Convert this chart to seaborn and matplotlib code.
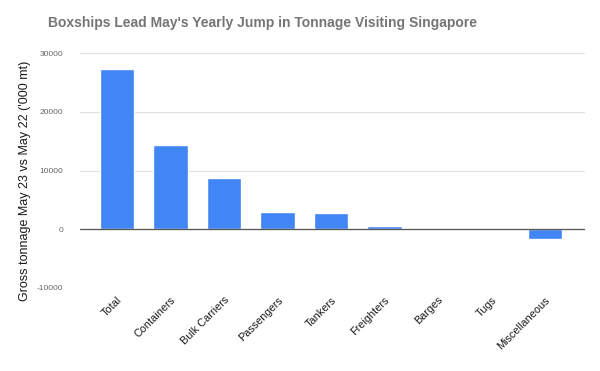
import matplotlib
matplotlib.use("Agg")
import matplotlib.pyplot as plt
import seaborn as sns
import pandas as pd

categories = ["Total", "Containers", "Bulk Carriers", "Passengers", "Tankers",
              "Freighters", "Barges", "Tugs", "Miscellaneous"]
values = [27300, 14300, 8700, 2900, 2700, 500, 0, 0, -1700]
yticks = [-10000, 0, 10000, 20000, 30000]

sns.set_theme(style="white")
plt.rcParams['font.family'] = ['Liberation Sans', 'DejaVu Sans']

df = pd.DataFrame({"cat": categories, "val": values})

fig = plt.figure(figsize=(6, 3.71), dpi=100)
ax = fig.add_axes([80/600, 1-288/371, 505/600, (288-53)/371])

sns.barplot(data=df, x="cat", y="val", color="#4285f4", saturation=1,
            width=0.64, ax=ax, zorder=3)

ax.set_ylim(-10000, 30000)
ax.set_yticks(yticks)
ax.set_yticklabels([str(t) for t in yticks], fontsize=6, color="#666666")
ax.grid(axis="y", color="#e0e0e0", linewidth=0.8, zorder=0)
ax.axhline(0, color="#555555", linewidth=0.9, zorder=4)
for s in ax.spines.values():
    s.set_visible(False)
ax.tick_params(axis="y", length=0, pad=12)
ax.tick_params(axis="x", length=0, pad=5)
ax.set_xlim(-0.69, 8.75)

ax.set_xticks(range(len(categories)))
ax.set_xticklabels(categories, rotation=45, ha="right", rotation_mode="anchor",
                   fontsize=7.8, color="#1a1a1a")
ax.set_xlabel("")
ax.set_ylabel("Gross tonnage May 23 vs May 22 ('000 mt)", fontsize=9,
              color="#1a1a1a", va="center")
ax.yaxis.set_label_coords(-0.109, 0.455)

fig.text(263/600, 1-23/371, "Boxships Lead May's Yearly Jump in Tonnage Visiting Singapore",
         ha="center", va="center", fontsize=10, fontweight="bold", color="#757575")

fig.savefig("out.png", dpi=100, facecolor="white")
